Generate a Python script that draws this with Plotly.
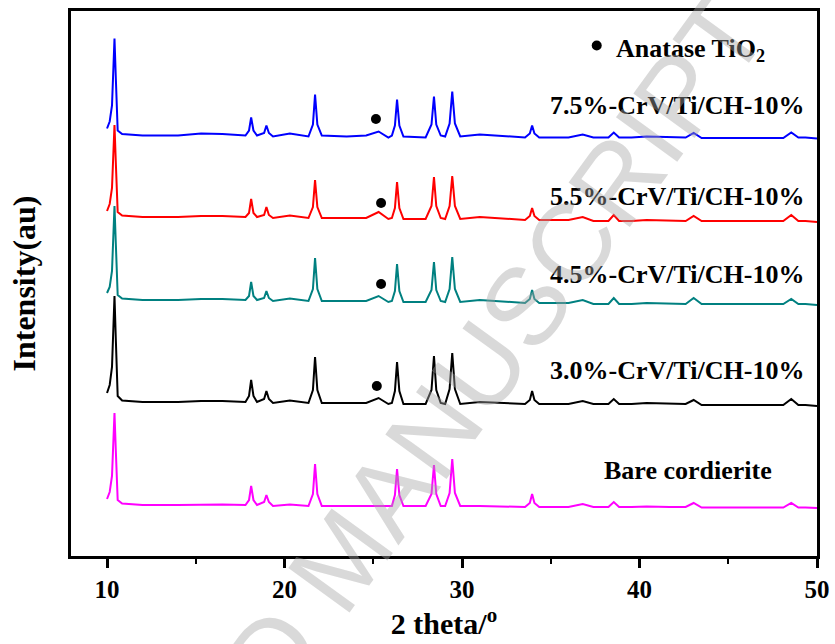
import plotly.graph_objects as go

# ---- data ----
two_theta = [10.00, 10.15, 10.28, 10.36, 10.42, 10.50, 10.60, 10.85, 12.00, 14.00,
             15.30, 16.50, 17.80, 18.00, 18.12, 18.25, 18.45, 18.85, 18.98, 19.12,
             19.35, 20.30, 21.35, 21.60, 21.72, 21.85, 22.10, 23.50, 24.60, 25.30,
             25.85, 26.05, 26.22, 26.34, 26.47, 26.70, 27.95, 28.28, 28.42, 28.55,
             28.80, 29.05, 29.30, 29.45, 29.60, 29.90, 31.00, 33.55, 33.82, 33.95,
             34.08, 34.35, 36.00, 36.80, 37.40, 38.25, 38.55, 38.85, 39.55, 40.40,
             41.70, 42.60, 43.05, 43.50, 44.40, 46.70, 48.10, 48.55, 48.95, 49.35,
             50.00]

int_7_5 = [7, 14, 30, 62, 97, 55, 5, 1.5, 0, 0,
           2, 1.5, 0, 5, 18, 5, 0, 2.5, 10, 2.5,
           -1, 2, -1, 11, 41, 11, 0, -1, 0, 4,
           -2, 0, 10, 36, 10, -1, -2, 11, 39, 11,
           0, -1, 12, 44, 12, -1, 1, -2, 2, 10,
           2, -2, -2, 1, -2, -2, 3, -2, -2, -1,
           -2, -2, 2.5, -2.5, -2.5, -2.5, -2.5, 3, -2, -2,
           -3]

int_5_5 = [6, 13, 29, 59, 92, 52, 5, 1.5, 0, 0,
           1, 1, 0, 4, 18, 4, 0, 2, 10, 2,
           -1, 1.5, -1, 10, 37, 10, -1, -1, -1, 5,
           -2, -1, 9, 35, 9, -2, -2, 11, 40, 11,
           -1, -2, 11, 41, 11, -2, 0, -3, 1, 9,
           1, -3, -3, 0, -4, -4, 2, -4, -4, -3,
           -4, -4, 1, -4, -4, -4, -4, 2, -4, -4,
           -5]

int_4_5 = [7, 13, 29, 60, 94, 54, 5, 1.5, 0, 0,
           1, 1, 0, 4, 18, 4, 0, 2, 9, 2,
           -1, 1.5, -1, 11, 42, 11, -1, -1, -1, 4,
           -2, -1, 9, 36, 9, -2, -2, 10, 38, 10,
           -1, -2, 11, 43, 11, -2, 0, -3, 1, 10,
           1, -3, -3, 0, -4, -4, 2, -4, -4, -3,
           -4, -4, 2, -4, -4, -4, -4, 1, -4, -4,
           -5]

int_3_0 = [9, 17, 35, 70, 106, 60, 6, 1.5, 0, 0,
           1, 1, 0, 6, 22, 6, 0, 3, 11, 3,
           -1, 1.5, -1, 12, 45, 12, -1, -1, -1, 4,
           -2, -1, 11, 40, 11, -2, -2, 12, 46, 12,
           -1, -2, 13, 49, 13, -2, 0, -2, 2, 11,
           2, -2, -2, 1, -2, -2, 3, -2, -2, -1,
           -2, -2, 2, -3, -3, -3, -3, 3, -3, -3,
           -4]

int_bare = [6, 13, 29, 59, 92, 52, 5, 1.5, 0, 0,
            0.5, 0.5, 0, 5, 19, 5, 0, 3, 10, 3,
            -1, 0.5, -1, 11, 41, 11, -1, -1, -1, -1,
            -1, -1, 10, 36, 10, -1, -1, 11, 40, 11,
            -1, -1, 12, 46, 12, -1, -1, -2, 2, 11,
            2, -2, -2, 1, -2, -2, 3, -2, -2, -1.5,
            -2, -2, 2, -2.5, -2.5, -2.5, -2.5, 2, -2.5, -2.5,
            -3]

series_names = ["7.5%-CrV/Ti/CH-10%", "5.5%-CrV/Ti/CH-10%", "4.5%-CrV/Ti/CH-10%",
                "3.0%-CrV/Ti/CH-10%", "Bare cordierite"]
series_values = [int_7_5, int_5_5, int_4_5, int_3_0, int_bare]
stack_offsets = [420.5, 339, 256, 154, 51]

anatase_x = [25.15, 25.44, 25.44, 25.20]
anatase_y = [437, 353, 272, 170]

# ---- styling ----
colors = ["#0000FF", "#FF0000", "#008080", "#000000", "#FF00FF"]
label_x = [42.14, 42.14, 42.14, 42.14, 42.75]
label_y = [451, 360, 282, 186, 86]
SERIF = "Liberation Serif, Times New Roman, serif"

fig = go.Figure()
for name, vals, off, col in zip(series_names, series_values, stack_offsets, colors):
    fig.add_trace(go.Scatter(
        x=two_theta, y=[v + off for v in vals], mode="lines", name=name,
        line=dict(color=col, width=2), showlegend=False, hoverinfo="skip"))

fig.add_trace(go.Scatter(x=anatase_x, y=anatase_y, mode="markers",
                         marker=dict(color="black", size=10), showlegend=False))
# legend-style dot
fig.add_trace(go.Scatter(x=[37.59], y=[510.5], mode="markers",
                         marker=dict(color="black", size=10), showlegend=False))

annotations = []
for name, lx, ly in zip(series_names, label_x, label_y):
    annotations.append(dict(x=lx, y=ly, xref="x", yref="y", text="<b>%s</b>" % name,
                            showarrow=False, xanchor="center", yanchor="middle",
                            font=dict(family=SERIF, size=26, color="black")))
annotations.append(dict(x=38.56, y=506, xref="x", yref="y",
                        text="<b>Anatase TiO<sub>2</sub></b>", showarrow=False,
                        xanchor="left", yanchor="middle",
                        font=dict(family=SERIF, size=26, color="black")))
# watermark
annotations.append(dict(x=0.363, y=-0.002, xref="paper", yref="paper",
                        text="ACCEPTED MANUSCRIPT", showarrow=False, textangle=-54,
                        xanchor="center", yanchor="middle",
                        font=dict(family="Liberation Sans, Arial, sans-serif", size=110,
                                  color="rgba(165,165,165,0.42)")))

fig.update_layout(
    width=835, height=644,
    margin=dict(l=71, r=18, t=11, b=88),
    paper_bgcolor="white", plot_bgcolor="white",
    annotations=annotations,
    xaxis=dict(range=[7.97, 50.0], tick0=10, dtick=10, ticks="outside", ticklen=9,
               tickwidth=2.5, tickcolor="black", showline=True, linewidth=2.5,
               linecolor="black", mirror=True, showgrid=False, zeroline=False,
               automargin=False,
               tickfont=dict(family=SERIF, size=25, color="black", weight="bold"),
               minor=dict(dtick=5, tick0=10, ticks="outside", ticklen=5, tickwidth=2,
                          tickcolor="black", showgrid=False),
               title=dict(text="<b>2 theta/<sup>o</sup></b>", standoff=6,
                          font=dict(family=SERIF, size=30, color="black"))),
    yaxis=dict(range=[0, 545], showticklabels=False, ticks="", showline=True,
               linewidth=2.5, linecolor="black", mirror=True, showgrid=False,
               zeroline=False, automargin=False,
               title=dict(text="<b>Intensity(au)</b>", standoff=24,
                          font=dict(family=SERIF, size=32, color="black"))),
)

fig.write_html("out.html")
